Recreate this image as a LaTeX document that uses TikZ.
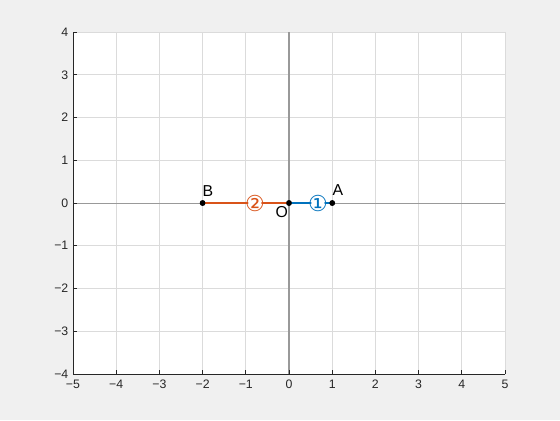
\documentclass[tikz,border=0pt]{standalone}
\usepackage{fontspec}
\setmainfont{Liberation Sans}
\newfontfamily\symfont{DejaVu Sans}
\begin{document}
\begin{tikzpicture}[x=0.864cm,y=0.855cm,
  dot/.style={circle,fill=black,inner sep=0pt,minimum size=3.2pt},
  ticklbl/.style={font=\fontsize{7}{8}\selectfont,text=kDark,inner sep=1pt},
  ptlbl/.style={font=\fontsize{9}{10}\selectfont,inner sep=0pt},
  numlbl/.style={font=\symfont\fontsize{12.5}{13}\selectfont,circle,fill=white,inner sep=-2.5pt}]
  % colors
  \definecolor{kBack}{rgb}{0.94,0.94,0.94}
  \definecolor{kGrid}{rgb}{0.86,0.86,0.86}
  \definecolor{kZero}{rgb}{0.6,0.6,0.6}
  \definecolor{kDark}{rgb}{0.15,0.15,0.15}
  \definecolor{kBlue}{rgb}{0.0,0.447,0.741}
  \definecolor{kOrange}{rgb}{0.85,0.325,0.098}
  % frame
  \fill[kBack] (-6.69,-5.076) rectangle (6.273,4.749);
  \useasboundingbox (-6.69,-5.076) rectangle (6.273,4.749);
  \fill[white] (-5,-4) rectangle (5,4);
  % grids
  \draw[kGrid,line width=0.4pt,step=1] (-5,-4) grid (5,4);
  \draw[kZero,line width=0.5pt] (-5,0) -- (5,0);
  \draw[kZero,line width=1pt] (0,-4) -- (0,4);
  % axes
  \draw[kDark,line width=0.5pt] (-5,4) -- (-5,-4) -- (5,-4);
  \foreach \x in {-5,...,5} {
    \draw[kDark,line width=0.5pt] (\x,-4) -- (\x,-3.9);
    \node[ticklbl,anchor=north] at (\x,-4.08) {\ifnum\x<0 −\the\numexpr-\x\relax\else\x\fi};
  }
  \foreach \y in {-4,...,4} {
    \draw[kDark,line width=0.5pt] (-5,\y) -- (-4.9,\y);
    \node[ticklbl,anchor=east] at (-5.06,\y) {\ifnum\y<0 −\the\numexpr-\y\relax\else\y\fi};
  }
  % points
  \node[dot] (pB) at (-2,0) {};
  \node[dot] (pO) at (0,0) {};
  \node[dot] (pA) at (1,0) {};
  \draw[kOrange,line width=0.6pt] (pB.center) -- (pO.center);
  \draw[kBlue,line width=0.6pt] (pO.center) -- (pA.center);
  \node[dot] at (pB) {};
  \node[dot] at (pO) {};
  \node[dot] at (pA) {};
  \node[ptlbl] (lB) at (-1.88,0.29) {B};
  \node[ptlbl] (lA) at (1.13,0.31) {A};
  \node[ptlbl] (lO) at (-0.17,-0.22) {O};
  \node[numlbl,text=kOrange] (n2) at (-0.79,0) {②};
  \node[numlbl,text=kBlue] (n1) at (0.67,0) {①};
\end{tikzpicture}
\end{document}
